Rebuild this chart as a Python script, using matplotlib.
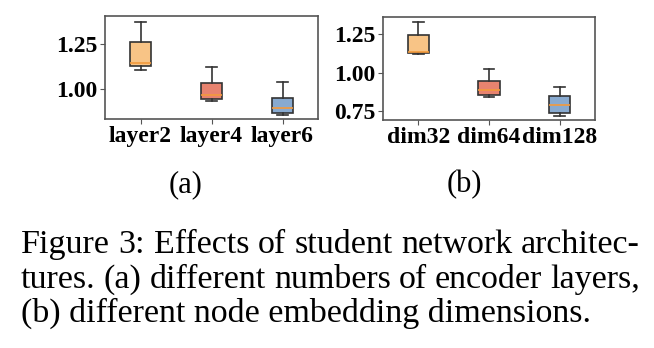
import matplotlib
matplotlib.use("Agg")
from matplotlib import pyplot as plt

plt.rcParams['font.family'] = ['Liberation Serif', 'DejaVu Serif']

# data (whisker low, q1, median, q3, whisker high)
layer_names = ['layer2', 'layer4', 'layer6']
layer_whislo = [1.106, 0.934, 0.854]
layer_q1 = [1.129, 0.944, 0.867]
layer_med = [1.144, 0.968, 0.895]
layer_q3 = [1.261, 1.032, 0.951]
layer_whishi = [1.376, 1.125, 1.037]

dim_names = ['dim32', 'dim64', 'dim128']
dim_whislo = [1.122, 0.839, 0.720]
dim_q1 = [1.126, 0.855, 0.735]
dim_med = [1.137, 0.887, 0.787]
dim_q3 = [1.248, 0.944, 0.848]
dim_whishi = [1.330, 1.026, 0.908]

box_colors = ['#F8C486', '#E8836F', '#88AAD0']

caption_lines = ["Figure 3: Effects of student network architec-",
                 "tures. (a) different numbers of encoder layers,",
                 "(b) different node embedding dimensions."]


def make_stats(names, lo, q1, med, q3, hi):
    stats = []
    for i in range(len(names)):
        stats.append({'label': names[i], 'whislo': lo[i], 'q1': q1[i],
                      'med': med[i], 'q3': q3[i], 'whishi': hi[i],
                      'fliers': []})
    return stats


def draw_box(ax, stats, ylim, ticks):
    b = ax.bxp(stats, widths=0.3, patch_artist=True, showfliers=False,
               boxprops=dict(edgecolor='#333333', linewidth=1.2),
               whiskerprops=dict(color='#333333', linewidth=1.2),
               capprops=dict(color='#333333', linewidth=1.2),
               medianprops=dict(color='#F39A3C', linewidth=1.2))
    for patch, c in zip(b['boxes'], box_colors):
        patch.set_facecolor(c)
    ax.set_xlim(0.5, 3.5)
    ax.set_ylim(ylim)
    ax.set_yticks(ticks)
    ax.set_yticklabels(['%.2f' % t for t in ticks])
    for s in ax.spines.values():
        s.set_color('#555555')
        s.set_linewidth(1.2)
    ax.tick_params(colors='#555555', labelcolor='black', labelsize=17)
    ax.tick_params(axis='x', pad=1.5)
    ax.tick_params(axis='y', pad=2)
    for lab in ax.get_xticklabels() + ax.get_yticklabels():
        lab.set_fontweight('bold')


fig = plt.figure(figsize=(6.54, 3.48), dpi=100)
W, H = 654.0, 348.0

ax1 = fig.add_axes([105 / W, 1 - 119 / H, 213 / W, 103 / H])
draw_box(ax1, make_stats(layer_names, layer_whislo, layer_q1, layer_med,
                         layer_q3, layer_whishi), (0.832, 1.408), [1.00, 1.25])

ax2 = fig.add_axes([383 / W, 1 - 120 / H, 212 / W, 103 / H])
draw_box(ax2, make_stats(dim_names, dim_whislo, dim_q1, dim_med,
                         dim_q3, dim_whishi), (0.691, 1.363), [0.75, 1.00, 1.25])

fig.text(186 / W, 1 - 185 / H, '(a)', fontsize=22, ha='center', va='center')
fig.text(464 / W, 1 - 185 / H, '(b)', fontsize=22, ha='center', va='center')

# caption, first two lines justified between x=21 and x=640
baselines = [253, 288, 322]
x0, x1 = 21.0, 640.0
renderer = fig.canvas.get_renderer()
for n, line in enumerate(caption_lines):
    y = 1 - baselines[n] / H
    if n == len(caption_lines) - 1:
        fig.text(x0 / W, y, line, fontsize=24.5, va='baseline')
        continue
    words = line.split(' ')
    texts = [fig.text(0, y, w, fontsize=24.5, va='baseline') for w in words]
    widths = [t.get_window_extent(renderer).width for t in texts]
    gap = (x1 - x0 - sum(widths)) / (len(words) - 1)
    x = x0
    for t, w in zip(texts, widths):
        t.set_x(x / W)
        x += w + gap

fig.savefig('out.png', dpi=100)
